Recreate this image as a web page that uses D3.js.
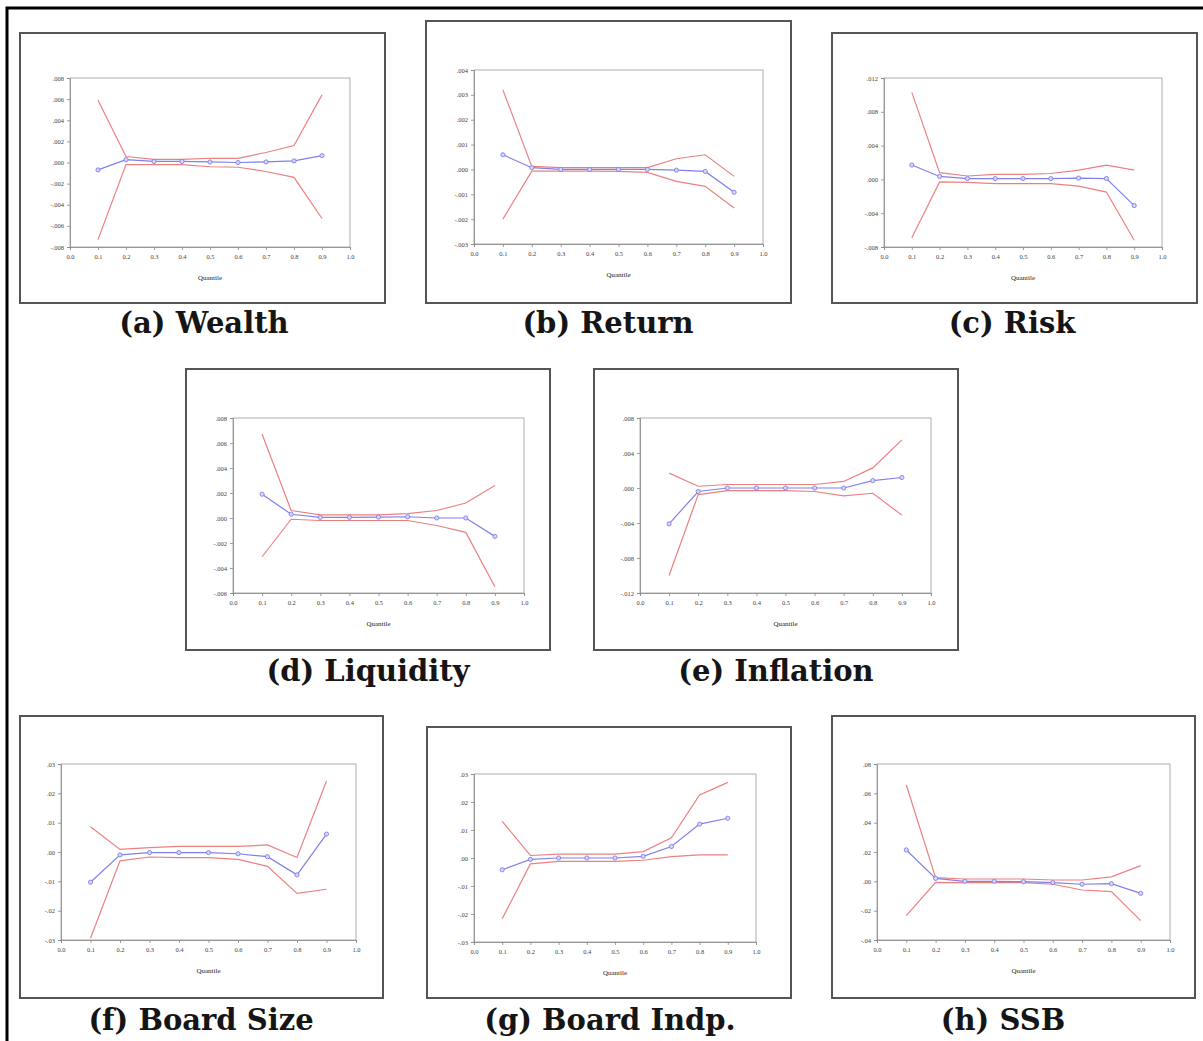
<!DOCTYPE html>
<html>
<head>
<meta charset="utf-8">
<script src="https://cdn.jsdelivr.net/npm/d3@7"></script>
<style>
  body { margin: 0; background: #fff; }
  .axis text { font-family: "Liberation Serif", serif; font-size: 6.5px; fill: #444; }
  .axis path, .axis line { stroke: #888; stroke-width: 0.8; }
  .xlab { font-family: "Liberation Serif", serif; font-size: 7px; fill: #222; }
  .caption { font-family: "DejaVu Serif", serif; font-weight: bold; font-size: 29px; fill: #151515; }
</style>
</head>
<body>
<svg id="chart" width="1203" height="1041"></svg>
<script>
var quantiles = [0.1, 0.2, 0.3, 0.4, 0.5, 0.6, 0.7, 0.8, 0.9];
var xTicks = [0, 0.1, 0.2, 0.3, 0.4, 0.5, 0.6, 0.7, 0.8, 0.9, 1.0];

// (a) Wealth
var wealthEst = [-0.0007, 0.00027, 0.0001, 0.0001, 0.00005, 0.0, 0.00005, 0.00015, 0.00065];
var wealthUp  = [0.0059, 0.00057, 0.0003, 0.0003, 0.0004, 0.0004, 0.00095, 0.0016, 0.0064];
var wealthLo  = [-0.0073, -0.0002, -0.0002, -0.0002, -0.0004, -0.00045, -0.00085, -0.0014, -0.0053];
var wealthTicks = [-0.008, -0.006, -0.004, -0.002, 0, 0.002, 0.004, 0.006, 0.008];
var wealthLabels = ["-.008", "-.006", "-.004", "-.002", ".000", ".002", ".004", ".006", ".008"];

// (b) Return
var returnEst = [0.00059, 0.00007, 0.0, 0.0, 0.0, 0.0, -0.00003, -0.00008, -0.00092];
var returnUp  = [0.0032, 0.00012, 0.00007, 0.00007, 0.00007, 0.00007, 0.00043, 0.00059, -0.00028];
var returnLo  = [-0.0020, -0.00007, -0.00007, -0.00007, -0.00008, -0.00012, -0.00048, -0.00068, -0.00155];
var returnTicks = [-0.003, -0.002, -0.001, 0, 0.001, 0.002, 0.003, 0.004];
var returnLabels = ["-.003", "-.002", "-.001", ".000", ".001", ".002", ".003", ".004"];

// (c) Risk
var riskEst = [0.0017, 0.00035, 0.0001, 0.0001, 0.0001, 0.0001, 0.00015, 0.0001, -0.0031];
var riskUp  = [0.0103, 0.0008, 0.0004, 0.0006, 0.0006, 0.0007, 0.0011, 0.0017, 0.0011];
var riskLo  = [-0.0069, -0.0003, -0.00035, -0.0005, -0.0005, -0.0005, -0.0008, -0.0015, -0.0072];
var riskTicks = [-0.008, -0.004, 0, 0.004, 0.008, 0.012];
var riskLabels = ["-.008", "-.004", ".000", ".004", ".008", ".012"];

// (d) Liquidity
var liqEst = [0.0019, 0.0003, 0.00005, 0.00005, 0.00007, 0.0001, 0.0, 0.0, -0.00147];
var liqUp  = [0.0067, 0.0006, 0.00025, 0.00025, 0.00025, 0.00035, 0.0006, 0.0012, 0.0026];
var liqLo  = [-0.0031, -0.0001, -0.0002, -0.0002, -0.0002, -0.0002, -0.0006, -0.00115, -0.0055];
var liqTicks = [-0.006, -0.004, -0.002, 0, 0.002, 0.004, 0.006, 0.008];
var liqLabels = ["-.006", "-.004", "-.002", ".000", ".002", ".004", ".006", ".008"];

// (e) Inflation
var inflEst = [-0.0041, -0.0004, 0.0, 0.0, 0.0, 0.0, 0.0, 0.00085, 0.0012];
var inflUp  = [0.0017, 0.0002, 0.0004, 0.0004, 0.0004, 0.0004, 0.00075, 0.0023, 0.0055];
var inflLo  = [-0.0100, -0.00075, -0.0003, -0.0003, -0.0003, -0.0004, -0.0009, -0.0006, -0.0031];
var inflTicks = [-0.012, -0.008, -0.004, 0, 0.004, 0.008];
var inflLabels = ["-.012", "-.008", "-.004", ".000", ".004", ".008"];

// (f) Board Size
var bsizeEst = [-0.0103, -0.001, -0.0002, -0.0002, -0.0002, -0.0006, -0.0016, -0.0078, 0.0061];
var bsizeUp  = [0.0086, 0.0009, 0.0015, 0.0019, 0.0019, 0.0019, 0.0024, -0.0019, 0.0242];
var bsizeLo  = [-0.0294, -0.003, -0.0017, -0.0019, -0.0019, -0.0025, -0.0049, -0.0141, -0.0127];
var bsizeTicks = [-0.03, -0.02, -0.01, 0, 0.01, 0.02, 0.03];
var bsizeLabels = ["-.03", "-.02", "-.01", ".00", ".01", ".02", ".03"];

// (g) Board Indp.
var bindEst = [-0.0042, -0.0005, 0.0, 0.0, 0.0, 0.0006, 0.0041, 0.0121, 0.0142];
var bindUp  = [0.0131, 0.0009, 0.0014, 0.0014, 0.0014, 0.0023, 0.0072, 0.0225, 0.027];
var bindLo  = [-0.0217, -0.0021, -0.0012, -0.0012, -0.0012, -0.0008, 0.0005, 0.0011, 0.0011];
var bindTicks = [-0.03, -0.02, -0.01, 0, 0.01, 0.02, 0.03];
var bindLabels = ["-.03", "-.02", "-.01", ".00", ".01", ".02", ".03"];

// (h) SSB
var ssbEst = [0.0214, 0.002, 0.0, 0.0, -0.0002, -0.0009, -0.002, -0.0016, -0.0082];
var ssbUp  = [0.0657, 0.0025, 0.0016, 0.0016, 0.0016, 0.0009, 0.0009, 0.003, 0.0107];
var ssbLo  = [-0.0234, -0.0007, -0.0009, -0.0009, -0.0009, -0.002, -0.0059, -0.007, -0.0268];
var ssbTicks = [-0.04, -0.02, 0, 0.02, 0.04, 0.06, 0.08];
var ssbLabels = ["-.04", "-.02", ".00", ".02", ".04", ".06", ".08"];

var captions = ["(a) Wealth", "(b) Return", "(c) Risk", "(d) Liquidity", "(e) Inflation",
                "(f) Board Size", "(g) Board Indp.", "(h) SSB"];

// layout: frame box, plot area, caption position
var panels = [
  {est: wealthEst, up: wealthUp, lo: wealthLo, ticks: wealthTicks, labels: wealthLabels,
   box: [20, 33, 385, 303], plot: [70, 78, 350, 247], cap: [204, 333]},
  {est: returnEst, up: returnUp, lo: returnLo, ticks: returnTicks, labels: returnLabels,
   box: [426, 21, 791, 303], plot: [474, 70, 763, 244], cap: [608, 333]},
  {est: riskEst, up: riskUp, lo: riskLo, ticks: riskTicks, labels: riskLabels,
   box: [832, 33, 1197, 303], plot: [884, 78, 1162, 247], cap: [1012, 333]},
  {est: liqEst, up: liqUp, lo: liqLo, ticks: liqTicks, labels: liqLabels,
   box: [186, 369, 550, 650], plot: [233, 418, 524, 593], cap: [368, 681]},
  {est: inflEst, up: inflUp, lo: inflLo, ticks: inflTicks, labels: inflLabels,
   box: [594, 369, 958, 650], plot: [640, 418, 931, 593], cap: [776, 681]},
  {est: bsizeEst, up: bsizeUp, lo: bsizeLo, ticks: bsizeTicks, labels: bsizeLabels,
   box: [20, 716, 383, 998], plot: [61, 764, 356, 940], cap: [201, 1030]},
  {est: bindEst, up: bindUp, lo: bindLo, ticks: bindTicks, labels: bindLabels,
   box: [427, 727, 791, 998], plot: [474, 774, 756, 942], cap: [610, 1030]},
  {est: ssbEst, up: ssbUp, lo: ssbLo, ticks: ssbTicks, labels: ssbLabels,
   box: [832, 716, 1195, 998], plot: [877, 764, 1170, 940], cap: [1003, 1030]}
];

var svg = d3.select("#chart");

// outer frame (left and top edges visible)
svg.append("path")
    .attr("d", "M7,1041 V8 H1203")
    .attr("fill", "none")
    .attr("stroke", "#000")
    .attr("stroke-width", 3);

panels.forEach(function(p, i) {
    var g = svg.append("g");

    g.append("rect")
        .attr("x", p.box[0]).attr("y", p.box[1])
        .attr("width", p.box[2] - p.box[0]).attr("height", p.box[3] - p.box[1])
        .attr("fill", "#fff")
        .attr("stroke", "#555")
        .attr("stroke-width", 2);

    var x = d3.scaleLinear().domain([0, 1]).range([p.plot[0], p.plot[2]]);
    var y = d3.scaleLinear()
        .domain([p.ticks[0], p.ticks[p.ticks.length - 1]])
        .range([p.plot[3], p.plot[1]]);

    g.append("rect")
        .attr("x", p.plot[0]).attr("y", p.plot[1])
        .attr("width", p.plot[2] - p.plot[0]).attr("height", p.plot[3] - p.plot[1])
        .attr("fill", "none")
        .attr("stroke", "#999")
        .attr("stroke-width", 0.8);

    g.append("g")
        .attr("class", "axis")
        .attr("transform", "translate(0," + p.plot[3] + ")")
        .call(d3.axisBottom(x).tickValues(xTicks).tickFormat(d3.format(".1f")).tickSize(3).tickPadding(4));

    g.append("g")
        .attr("class", "axis")
        .attr("transform", "translate(" + p.plot[0] + ",0)")
        .call(d3.axisLeft(y).tickValues(p.ticks).tickFormat(function(d, k) { return p.labels[k]; })
              .tickSize(3).tickPadding(3));

    g.append("text")
        .attr("class", "xlab")
        .attr("x", (p.plot[0] + p.plot[2]) / 2)
        .attr("y", p.plot[3] + 33)
        .attr("text-anchor", "middle")
        .text("Quantile");

    var line = d3.line()
        .x(function(d, k) { return x(quantiles[k]); })
        .y(function(d) { return y(d); });

    [p.up, p.lo].forEach(function(s) {
        g.append("path")
            .datum(s)
            .attr("fill", "none")
            .attr("stroke", "#ec8080")
            .attr("stroke-width", 1.2)
            .attr("d", line);
    });

    g.append("path")
        .datum(p.est)
        .attr("fill", "none")
        .attr("stroke", "#8080ea")
        .attr("stroke-width", 1.2)
        .attr("d", line);

    g.selectAll(".dot")
        .data(p.est)
        .enter().append("circle")
        .attr("cx", function(d, k) { return x(quantiles[k]); })
        .attr("cy", function(d) { return y(d); })
        .attr("r", 2.1)
        .attr("fill", "#d4d4ff")
        .attr("stroke", "#7777e0")
        .attr("stroke-width", 0.8);

    svg.append("text")
        .attr("class", "caption")
        .attr("x", p.cap[0])
        .attr("y", p.cap[1])
        .attr("text-anchor", "middle")
        .text(captions[i]);
});
</script>
</body>
</html>
